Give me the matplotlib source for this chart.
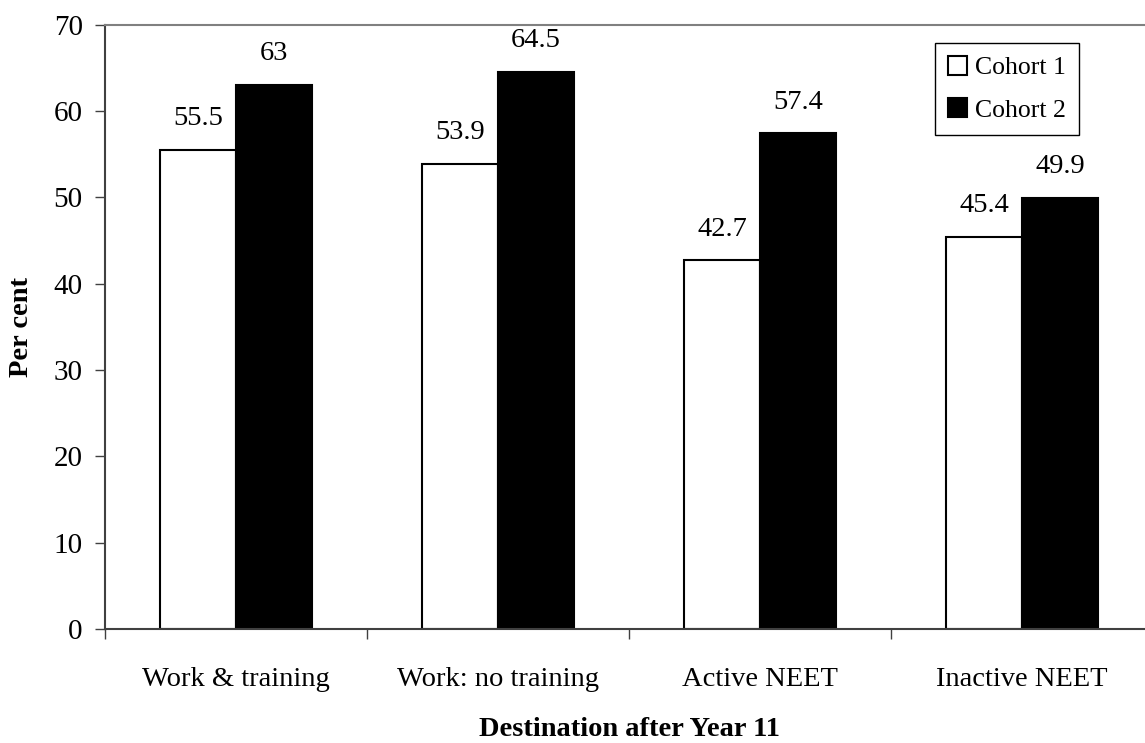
import numpy as np
import matplotlib.pyplot as plt

# Data
categories = ["Work & training", "Work: no training", "Active NEET", "Inactive NEET"]
cohort1 = [55.5, 53.9, 42.7, 45.4]
cohort2 = [63, 64.5, 57.4, 49.9]
labels1 = ["55.5", "53.9", "42.7", "45.4"]
labels2 = ["63", "64.5", "57.4", "49.9"]

plt.rcParams['font.family'] = ['Liberation Serif', 'DejaVu Serif']

fig = plt.figure(figsize=(11.45, 7.43), dpi=100)
ax = fig.add_axes([105 / 1145, 1 - 629 / 743, 1048 / 1145, (629 - 24.7) / 743])

x = np.arange(len(categories))
w = 0.29
b1 = ax.bar(x - w / 2, cohort1, w, color="white", edgecolor="black", linewidth=1.5, label="Cohort 1")
b2 = ax.bar(x + w / 2, cohort2, w, color="black", edgecolor="black", linewidth=1.5, label="Cohort 2")

for bars, labs in [(b1, labels1), (b2, labels2)]:
    for bar, lab in zip(bars, labs):
        ax.annotate(lab, (bar.get_x() + bar.get_width() / 2, bar.get_height()),
                    xytext=(0, 13.5), textcoords="offset points",
                    ha="center", va="bottom", fontsize=20.5)

ax.set_xlim(-0.5, 3.5)
ax.set_ylim(0, 70)
ax.set_yticks(range(0, 71, 10))
ax.tick_params(axis="y", labelsize=21, length=7, width=1, color="#404040", pad=9)

ax.set_xticks(x)
ax.set_xticklabels(categories)
ax.tick_params(axis="x", which="major", length=0, labelsize=20.5, pad=27)
ax.set_xticks(np.arange(-0.5, 4.0, 1.0), minor=True)
ax.tick_params(axis="x", which="minor", length=7, width=1, color="#404040")

ax.spines["right"].set_visible(False)
ax.spines["top"].set_color("#808080")
ax.spines["top"].set_linewidth(1.5)
for s in ["left", "bottom"]:
    ax.spines[s].set_color("#404040")
    ax.spines[s].set_linewidth(1.5)

ax.set_ylabel("Per cent", fontsize=20.5, fontweight="bold", labelpad=14)
ax.set_xlabel("Destination after Year 11", fontsize=20.5, fontweight="bold", labelpad=18)

leg = ax.legend(loc="upper left", bbox_to_anchor=(935 / 1145, 1 - 43 / 743),
                bbox_transform=fig.transFigure, borderaxespad=0, fontsize=18.5,
                fancybox=False, edgecolor="black", framealpha=1,
                handlelength=0.75, handleheight=0.75, handletextpad=0.3,
                labelspacing=0.75, borderpad=0.5)
leg.get_frame().set_linewidth(1)

fig.savefig("out.png", dpi=100)
